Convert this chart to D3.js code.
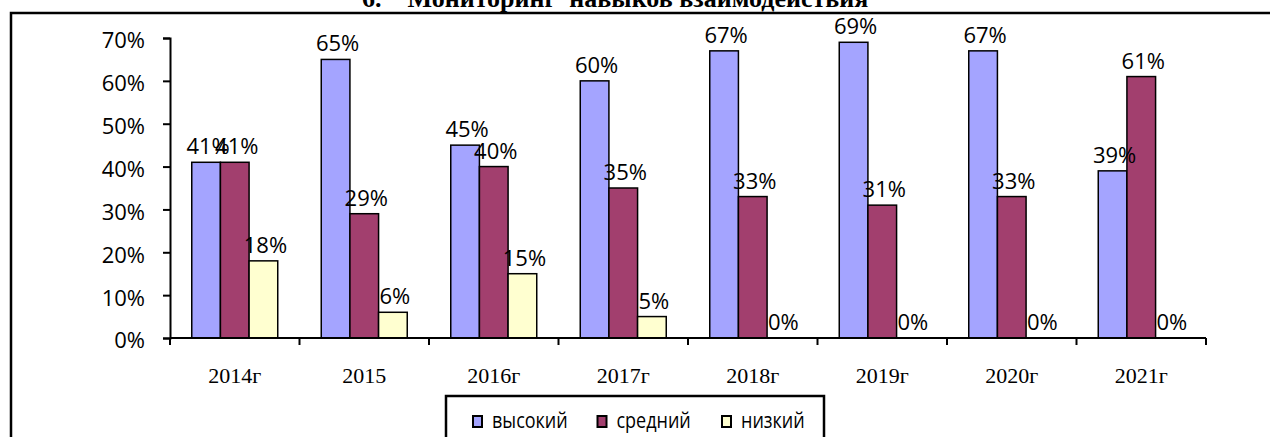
<!DOCTYPE html>
<html>
<head>
<meta charset="utf-8">
<script src="https://cdn.jsdelivr.net/npm/d3@7"></script>
<style>
  body { margin: 0; background: #fff; }
  svg { display: block; }
</style>
</head>
<body>
<svg id="chart"></svg>
<script>
const years = ['2014г', '2015', '2016г', '2017г', '2018г', '2019г', '2020г', '2021г'];
const seriesNames = ['высокий', 'средний', 'низкий'];
const high = [41, 65, 45, 60, 67, 69, 67, 39];
const medium = [41, 29, 40, 35, 33, 31, 33, 61];
const low = [18, 6, 15, 5, 0, 0, 0, 0];
const yTicks = [0, 10, 20, 30, 40, 50, 60, 70];
const colors = ['#a4a4ff', '#a23f6e', '#ffffd0'];

const width = 1270;
const height = 437;

const svg = d3.select('#chart')
  .attr('width', width)
  .attr('height', height);

// title, cut off by the top edge
svg.append('text')
  .attr('x', 362)
  .attr('y', 7)
  .style('white-space', 'pre')
  .style('font-family', '"Liberation Serif", "Times New Roman", serif')
  .style('font-weight', 'bold')
  .style('font-size', '26px')
  .text('6.    Мониторинг  навыков взаимодействия');

// frame
svg.append('path')
  .attr('d', `M11,${height} V13 H${width}`)
  .attr('fill', 'none')
  .attr('stroke', '#000')
  .attr('stroke-width', 2.5);

const x = d3.scaleBand()
  .domain(years)
  .range([170, 1206])
  .paddingInner(0.336)
  .paddingOuter(0.168);

const xSub = d3.scaleBand()
  .domain(seriesNames)
  .range([0, x.bandwidth()]);

const y = d3.scaleLinear()
  .domain([0, 70])
  .range([338, 38]);

const rows = years.map((year, i) => ({
  year,
  values: [high[i], medium[i], low[i]]
}));

// bars
const group = svg.selectAll('g.year')
  .data(rows)
  .enter()
  .append('g')
  .attr('class', 'year')
  .attr('transform', d => `translate(${x(d.year)},0)`);

group.selectAll('rect')
  .data(d => d.values.map((v, k) => ({ name: seriesNames[k], value: v, k })))
  .enter()
  .filter(d => d.value > 0)
  .append('rect')
  .attr('x', d => xSub(d.name))
  .attr('y', d => y(d.value))
  .attr('width', xSub.bandwidth())
  .attr('height', d => y(0) - y(d.value))
  .attr('fill', d => colors[d.k])
  .attr('stroke', '#000')
  .attr('stroke-width', 1.5);

group.selectAll('text')
  .data(d => d.values.map((v, k) => ({ name: seriesNames[k], value: v })))
  .enter()
  .append('text')
  .attr('x', d => xSub(d.name) + xSub.bandwidth() / 2 + 2)
  .attr('y', d => y(d.value) - 8)
  .attr('text-anchor', 'middle')
  .style('font-family', '"Open Sans", sans-serif')
  .style('font-size', '22px')
  .text(d => d.value + '%');

// y axis
const yAxis = svg.append('g')
  .attr('transform', 'translate(170,0)')
  .call(d3.axisLeft(y)
    .tickValues(yTicks)
    .tickFormat(d => d + '%')
    .tickSize(7)
    .tickPadding(18));

yAxis.select('.domain').attr('stroke-width', 2);
yAxis.selectAll('.tick line').attr('stroke-width', 2);
yAxis.selectAll('.tick text')
  .attr('dy', '0.45em')
  .style('font-family', '"Open Sans", sans-serif')
  .style('font-size', '22px')
  .attr('fill', '#000');

// x axis with ticks between categories
const x0 = x.range()[0];
svg.append('line')
  .attr('x1', x0)
  .attr('x2', x.range()[1])
  .attr('y1', y(0))
  .attr('y2', y(0))
  .attr('stroke', '#000')
  .attr('stroke-width', 2);

svg.selectAll('line.xtick')
  .data(d3.range(years.length + 1))
  .enter()
  .append('line')
  .attr('class', 'xtick')
  .attr('x1', i => x0 + i * x.step())
  .attr('x2', i => x0 + i * x.step())
  .attr('y1', y(0))
  .attr('y2', y(0) + 7)
  .attr('stroke', '#000')
  .attr('stroke-width', 2);

svg.selectAll('text.xlabel')
  .data(years)
  .enter()
  .append('text')
  .attr('class', 'xlabel')
  .attr('x', d => x(d) + x.bandwidth() / 2)
  .attr('y', 383)
  .attr('text-anchor', 'middle')
  .style('font-family', '"Liberation Serif", "Times New Roman", serif')
  .style('font-size', '22px')
  .text(d => d);

// legend
svg.append('rect')
  .attr('x', 446)
  .attr('y', 396)
  .attr('width', 378)
  .attr('height', 60)
  .attr('fill', '#fff')
  .attr('stroke', '#000')
  .attr('stroke-width', 2.5);

const legend = svg.selectAll('g.legend')
  .data(seriesNames)
  .enter()
  .append('g')
  .attr('class', 'legend')
  .attr('transform', (d, i) => `translate(${473 + i * 124.5},0)`);

legend.append('rect')
  .attr('y', 416)
  .attr('width', 9)
  .attr('height', 11)
  .attr('fill', (d, i) => colors[i])
  .attr('stroke', '#000')
  .attr('stroke-width', 2);

legend.append('text')
  .attr('transform', 'translate(19,428) scale(1,1.25)')
  .style('font-family', '"Open Sans", sans-serif')
  .style('font-size', '18px')
  .text(d => d);
</script>
</body>
</html>
